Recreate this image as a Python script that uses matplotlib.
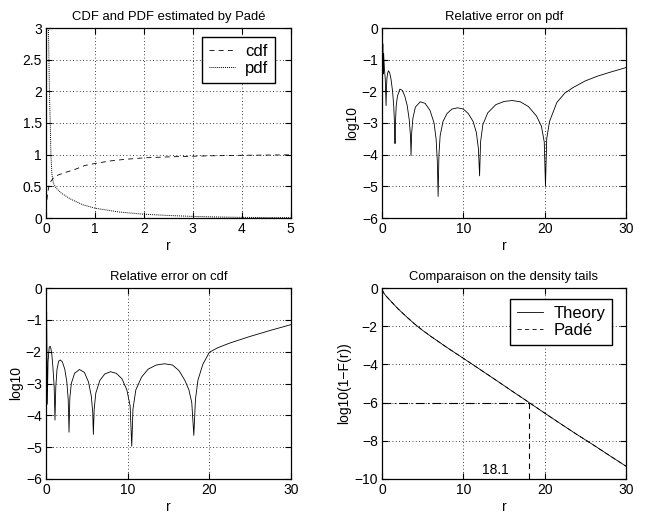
import matplotlib
matplotlib.use("Agg")
import matplotlib.pyplot as plt

plt.rcParams['font.family'] = ['Liberation Sans', 'DejaVu Sans']
plt.rcParams['axes.unicode_minus'] = True

# --- top left: CDF and PDF estimated by Pade
r_cdf = [0, 0.01, 0.03, 0.06, 0.1, 0.15, 0.25, 0.4, 0.6, 0.8, 1.0, 1.3, 1.6, 2.0, 2.5, 3.0, 3.5, 4.0, 4.5, 5.0]
cdf = [0, 0.2, 0.38, 0.5, 0.58, 0.63, 0.68, 0.72, 0.77, 0.83, 0.86, 0.9, 0.925, 0.95, 0.965, 0.976, 0.984, 0.99, 0.994, 0.997]
r_pdf = [0.03, 0.05, 0.07, 0.09, 0.1, 0.12, 0.15, 0.2, 0.3, 0.5, 0.75, 1.0, 1.5, 2.0, 2.5, 3.0, 3.5, 4.0, 4.5, 5.0]
pdf = [3.5, 3.0, 2.0, 1.4, 1.0, 0.7, 0.55, 0.48, 0.4, 0.3, 0.21, 0.155, 0.094, 0.06, 0.04, 0.025, 0.016, 0.01, 0.007, 0.005]

# --- top right: relative error on pdf (log10)
r_epdf = [0, 0.05, 0.1, 0.15, 0.2, 0.3, 0.4, 0.5, 0.55, 0.6, 0.7, 0.8, 0.95, 1.1, 1.3, 1.45, 1.55, 1.6, 1.65,
          1.75, 1.9, 2.2, 2.5, 2.8, 3.1, 3.35, 3.5, 3.57, 3.65, 3.8, 4.1, 4.7, 5.3, 5.9, 6.4, 6.65, 6.8, 6.9,
          7.0, 7.15, 7.5, 8.0, 8.6, 9.3, 10.0, 10.6, 11.2, 11.6, 11.85, 12.0, 12.12, 12.4, 13.0, 14.0, 15.0,
          16.0, 17.0, 18.0, 19.0, 19.6, 19.95, 20.1, 20.25, 20.6, 21.5, 22.5, 23.5, 25.0, 26.5, 28.0, 30.0]
epdf = [-0.35, -1.3, -0.5, -1.45, -0.8, -1.3, -1.6, -2.45, -1.9, -1.6, -1.42, -1.35, -1.42, -1.6, -2.0, -2.5,
        -3.1, -3.65, -3.0, -2.45, -2.15, -1.93, -1.97, -2.15, -2.45, -2.9, -3.4, -4.03, -3.3, -2.85, -2.5,
        -2.33, -2.38, -2.6, -3.0, -3.5, -4.2, -5.32, -4.0, -3.4, -2.95, -2.7, -2.56, -2.52, -2.56, -2.7,
        -2.95, -3.3, -3.8, -4.67, -3.6, -3.05, -2.68, -2.42, -2.32, -2.29, -2.33, -2.48, -2.78, -3.1, -3.6,
        -5.0, -3.5, -2.95, -2.35, -2.05, -1.88, -1.67, -1.52, -1.4, -1.25]

# --- bottom left: relative error on cdf (log10)
r_ecdf = [0.0, 0.08, 0.16, 0.25, 0.4, 0.55, 0.7, 0.85, 1.0, 1.1, 1.2, 1.35, 1.55, 1.75, 2.0, 2.3,
          2.55, 2.72, 2.82, 2.92, 3.1, 3.5, 4.1, 4.7, 5.2, 5.55, 5.72, 5.8, 5.9, 6.1, 6.6, 7.2, 7.9, 8.6, 9.3,
          9.9, 10.3, 10.5, 10.65, 11.0, 11.7, 12.5, 13.5, 14.5, 15.5, 16.3, 17.0, 17.5, 17.85, 18.1, 18.3,
          18.6, 19.2, 20.0, 21.0, 22.5, 25.0, 27.5, 30.0]
ecdf = [-1.5, -0.75, -3.65, -2.3, -1.85, -1.84, -2.05, -2.5, -3.1, -4.15, -3.1, -2.55, -2.3, -2.26,
        -2.32, -2.55, -2.95, -3.5, -4.53, -3.45, -3.0, -2.68, -2.56, -2.65, -2.95, -3.4, -3.9, -4.6, -3.8,
        -3.3, -2.9, -2.7, -2.63, -2.68, -2.85, -3.2, -3.7, -4.97, -3.8, -3.2, -2.8, -2.55, -2.42, -2.38,
        -2.42, -2.6, -2.9, -3.2, -3.6, -4.63, -3.5, -2.9, -2.4, -2.02, -1.88, -1.73, -1.52, -1.33, -1.15]

# --- bottom right: density tails
r_tail = [0, 0.25, 0.5, 1, 1.5, 2, 3, 4, 5, 6, 8, 10, 12, 14, 16, 18.1, 20, 22, 24, 26, 28, 30]
theory = [-0.1, -0.28, -0.42, -0.65, -0.88, -1.1, -1.5, -1.88, -2.22, -2.53, -3.12, -3.68, -4.25, -4.82,
          -5.4, -6.0, -6.55, -7.12, -7.68, -8.22, -8.78, -9.33]
pade = [-0.1, -0.28, -0.42, -0.65, -0.88, -1.1, -1.5, -1.88, -2.22, -2.53, -3.12, -3.68, -4.25, -4.82,
        -5.4, -6.0, -6.55, -7.12, -7.68, -8.22, -8.78, -9.33]
r_cut = 18.1
level_cut = -6

fig = plt.figure(figsize=(6.45, 5.15), dpi=100)
W, H = 645, 515


def make_ax(x0, y0, x1, y1):
    ax = fig.add_axes([x0 / W, 1 - y1 / H, (x1 - x0) / W, (y1 - y0) / H])
    ax.grid(True, color='black', linestyle=(0, (1, 3)), linewidth=0.6)
    ax.tick_params(direction='in', length=4, width=0.8, top=True, right=True,
                   labelsize=10, pad=3, colors='black')
    for s in ax.spines.values():
        s.set_linewidth(0.9)
    return ax


ax1 = make_ax(46, 28, 290.5, 218)
ax2 = make_ax(382, 28, 626, 218)
ax3 = make_ax(46, 288, 291, 479)
ax4 = make_ax(382, 288, 626, 479)

leg_kw = dict(loc='upper right', fontsize=12, fancybox=False, framealpha=1, edgecolor='black',
              handlelength=1.6, handletextpad=0.6, borderpad=0.4, labelspacing=0.15, borderaxespad=0)

# top left
ax1.plot(r_cdf, cdf, color='black', linestyle=(0, (6, 5)), linewidth=0.6, label='cdf')
ax1.plot(r_pdf, pdf, color='black', linestyle=(0, (1, 1)), linewidth=0.7, label='pdf')
ax1.set_xlim(0, 5)
ax1.set_ylim(0, 3)
ax1.set_xticks(range(6))
ax1.set_yticks([0, 0.5, 1, 1.5, 2, 2.5, 3])
ax1.set_yticklabels(['0', '0.5', '1', '1.5', '2', '2.5', '3'])
ax1.set_title('CDF and PDF estimated by Padé', fontsize=9.4, pad=6)
ax1.set_xlabel('r', fontsize=10, labelpad=2)
leg1 = ax1.legend(bbox_to_anchor=(0.937, 0.953), **leg_kw)
leg1.get_frame().set_linewidth(1.0)

# top right
ax2.plot(r_epdf, epdf, color='black', linewidth=0.6)
ax2.set_xlim(0, 30)
ax2.set_ylim(-6, 0)
ax2.set_xticks([0, 10, 20, 30])
ax2.set_yticks(range(-6, 1))
ax2.set_title('Relative error on pdf', fontsize=9.4, pad=6)
ax2.set_xlabel('r', fontsize=10, labelpad=2)
ax2.set_ylabel('log10', fontsize=10, labelpad=2)

# bottom left
ax3.plot(r_ecdf, ecdf, color='black', linewidth=0.6)
ax3.set_xlim(0, 30)
ax3.set_ylim(-6, 0)
ax3.set_xticks([0, 10, 20, 30])
ax3.set_yticks(range(-6, 1))
ax3.set_title('Relative error on cdf', fontsize=9.4, pad=6)
ax3.set_xlabel('r', fontsize=10, labelpad=2)
ax3.set_ylabel('log10', fontsize=10, labelpad=2)

# bottom right
ax4.plot(r_tail, theory, color='black', linewidth=0.6, label='Theory')
ax4.plot(r_tail, pade, color='black', linestyle=(0, (5, 4)), linewidth=0.6, label='Padé')
ax4.plot([0, r_cut], [level_cut, level_cut], color='black', linestyle=(0, (8, 3, 1, 3)), linewidth=0.8)
ax4.plot([r_cut, r_cut], [level_cut, -10], color='black', linestyle=(0, (5, 4)), linewidth=0.8)
ax4.text(12.3, -9.55, '18.1', fontsize=10, ha='left', va='center')
ax4.set_xlim(0, 30)
ax4.set_ylim(-10, 0)
ax4.set_xticks([0, 10, 20, 30])
ax4.set_yticks([-10, -8, -6, -4, -2, 0])
ax4.set_title('Comparaison on the density tails', fontsize=9.4, pad=6)
ax4.set_xlabel('r', fontsize=10, labelpad=2)
ax4.set_ylabel('log10(1−F(r))', fontsize=10, labelpad=2)
leg4 = ax4.legend(bbox_to_anchor=(0.943, 0.942), **leg_kw)
leg4.get_frame().set_linewidth(1.0)

fig.savefig('out.png', dpi=100)
